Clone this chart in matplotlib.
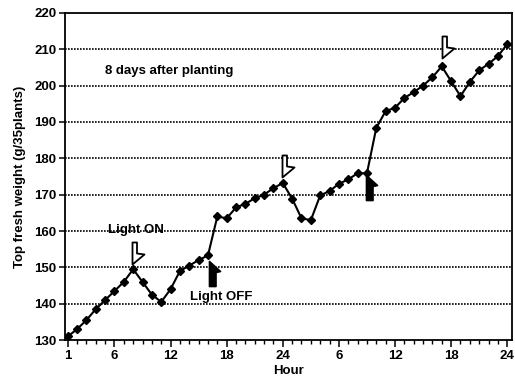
import matplotlib
matplotlib.use("Agg")
import matplotlib.pyplot as plt
from matplotlib.path import Path

plt.rcParams['font.family'] = ['Liberation Sans', 'DejaVu Sans']
plt.rcParams['font.weight'] = 'bold'
plt.rcParams['axes.labelweight'] = 'bold'

# hours 1..48 (two days)
horas = list(range(1, 49))
peso = [131, 133, 135.5, 138.5, 141, 143.5, 146, 149.5, 146, 142.5,
        140.5, 144, 149, 150.5, 152, 153.3, 164, 163.5, 166.5, 167.5,
        169, 170, 171.8, 173.2, 168.9, 163.5, 163, 169.8, 171, 173,
        174.2, 175.9, 175.9, 188.4, 193, 193.9, 196.6, 198.2, 200, 202.3,
        205.3, 201.2, 197.1, 201, 204.2, 206, 208.1, 211.4]

xticks = [1, 6, 12, 18, 24, 30, 36, 42, 48]
xticklabels = ['1', '6', '12', '18', '24', '6', '12', '18', '24']
yticks = list(range(130, 221, 10))

# light on (hollow arrows) / light off (black arrows): arrow tip positions
on_x = [7.9, 23.9, 41.0]
on_y = [151.0, 175.0, 207.5]
off_x = [16.1, 32.9]
off_y = [151.8, 175.3]

# half arrows, tip at origin
flecha_abajo = Path([(0, 0), (0, 22), (4.5, 22), (4.5, 11), (12, 10), (0, 0)],
                    [Path.MOVETO] + [Path.LINETO] * 4 + [Path.CLOSEPOLY])
flecha_arriba = Path([(0, 0), (0, -25), (6.5, -25), (6.5, -11), (11, -10), (0, 0)],
                     [Path.MOVETO] + [Path.LINETO] * 4 + [Path.CLOSEPOLY])

fig = plt.figure(figsize=(5.15, 3.8), dpi=100)
ax = fig.add_axes([0.126, 0.105, 0.868, 0.861])

for y in yticks[1:-1]:
    ax.axhline(y, color='black', lw=1.2, ls=(0, (1, 0.8)), zorder=0)

ax.plot(horas, peso, color='black', lw=1.5, marker='D', ms=4,
        mec='black', mfc='black')

ax.plot(on_x, on_y, ls='none', marker=flecha_abajo, ms=31.7,
        mfc='white', mec='black', mew=1.3, zorder=4)
ax.plot(off_x, off_y, ls='none', marker=flecha_arriba, ms=36,
        mfc='black', mec='black', mew=1.2, zorder=4)

ax.text(5, 204, '8 days after planting', fontsize=9.5, va='center')
ax.text(5.3, 160.3, 'Light ON', fontsize=9.5, va='center')
ax.text(14.1, 141.9, 'Light OFF', fontsize=9.5, va='center')

ax.set_xlim(0.7, 48.5)
ax.set_ylim(130, 220)
ax.set_xticks(xticks)
ax.set_xticklabels(xticklabels)
ax.set_xticks(horas, minor=True)
ax.set_yticks(yticks)
ax.tick_params(axis='both', direction='out', labelsize=9.5, width=1.1)
ax.tick_params(axis='x', which='major', length=5, pad=2)
ax.tick_params(axis='x', which='minor', length=3, width=1)
ax.tick_params(axis='y', length=4, pad=2)

for s in ax.spines.values():
    s.set_linewidth(1.3)

ax.set_xlabel('Hour', fontsize=9.5, labelpad=2)
ax.set_ylabel('Top fresh weight (g/35plants)', fontsize=9.5, labelpad=6)

fig.savefig('out.png', dpi=100)
